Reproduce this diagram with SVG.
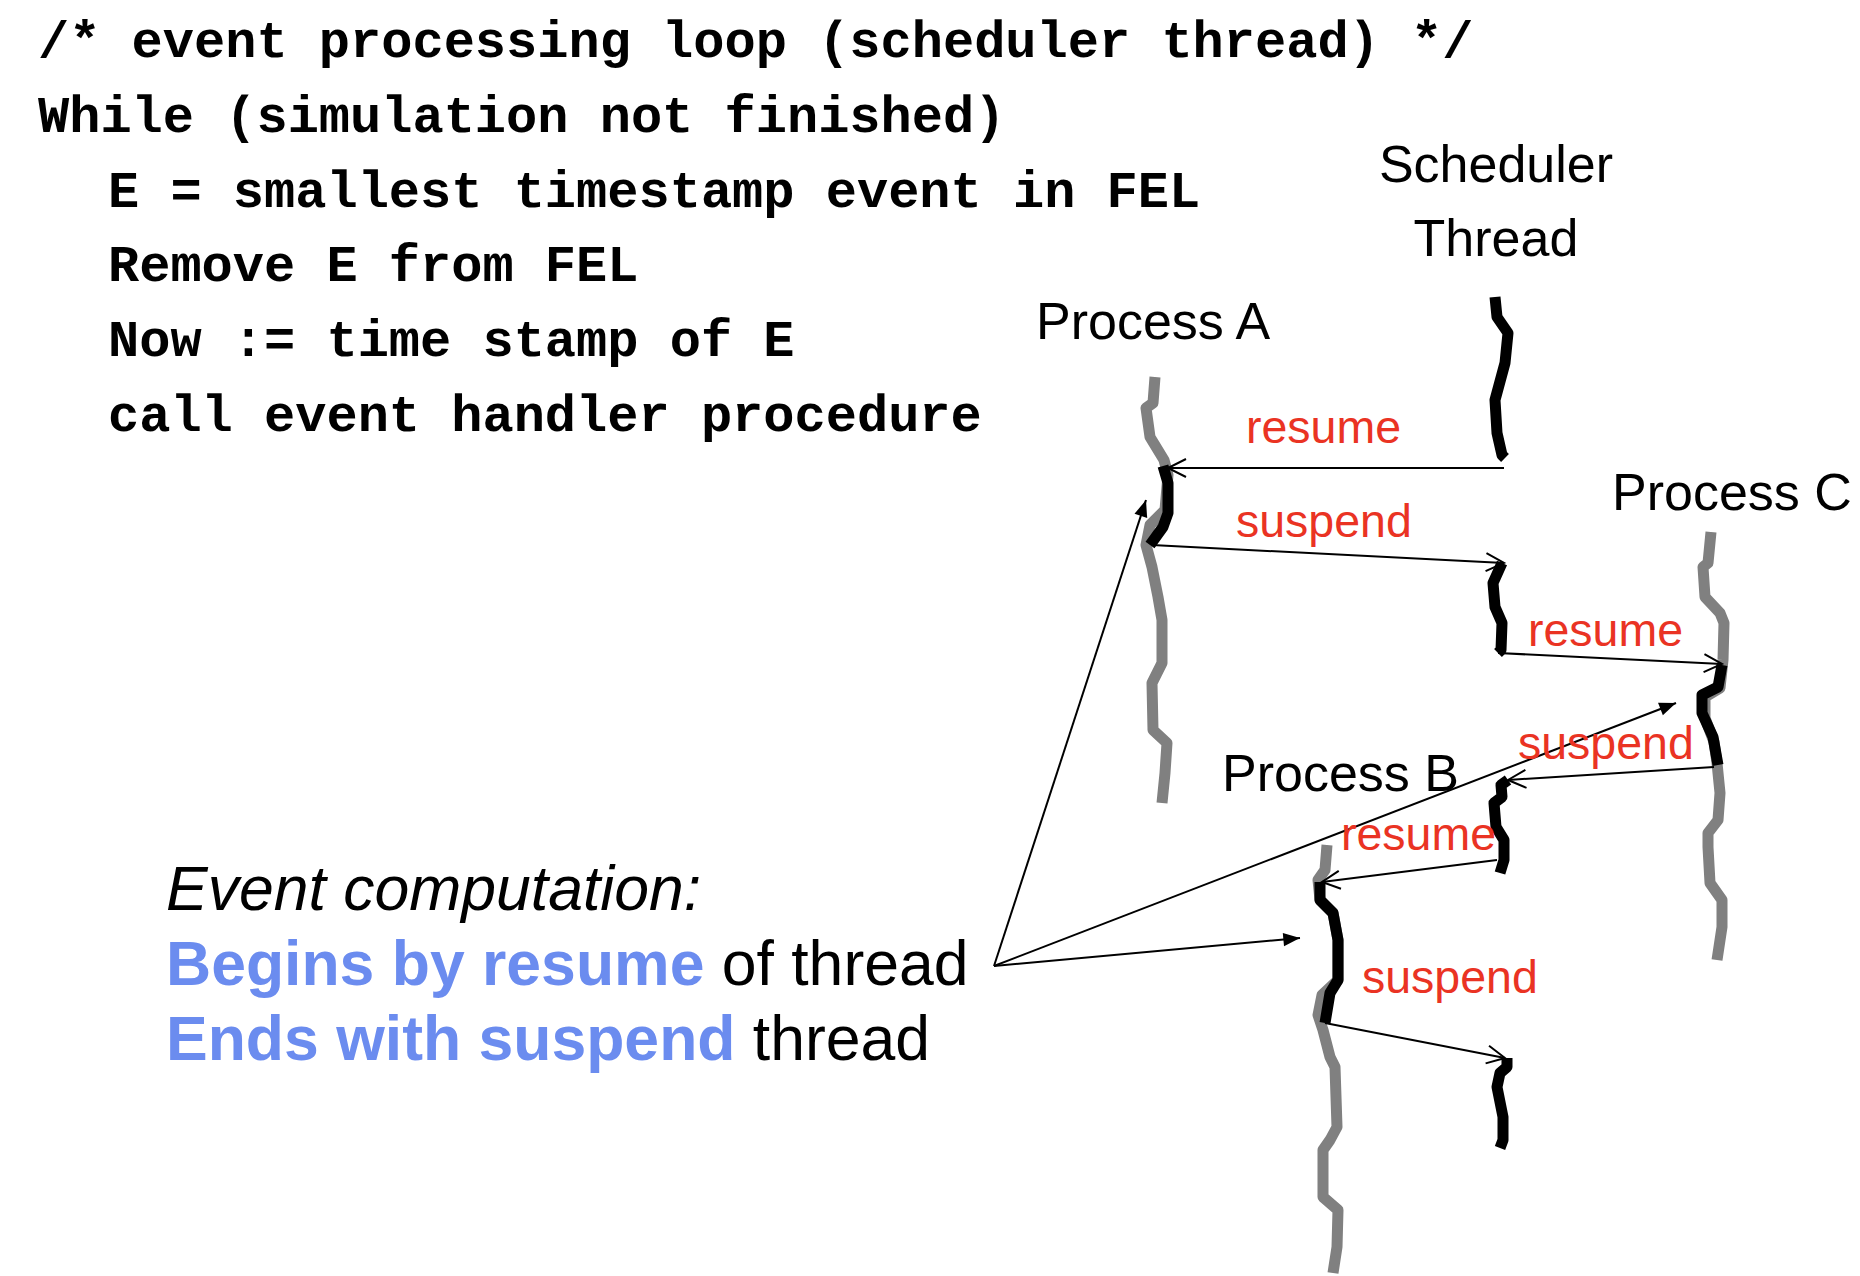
<svg xmlns="http://www.w3.org/2000/svg" width="1860" height="1276" viewBox="0 0 1860 1276">
  <defs>
    <style>
      .code { font-family: "Liberation Mono", "Courier New", monospace; font-weight: bold; font-size: 52px; fill: #000; }
      .head { font-family: "Liberation Sans", Arial, sans-serif; font-size: 52px; fill: #000; }
      .op { font-family: "Liberation Sans", Arial, sans-serif; font-size: 46.5px; fill: #EA3323; }
      .note { font-family: "Liberation Sans", Arial, sans-serif; font-size: 62.5px; fill: #000; }
      .hl { font-weight: bold; fill: #6B8CEF; }
      .idle { fill: none; stroke: #808080; stroke-width: 11; stroke-linejoin: round; }
      .run { fill: none; stroke: #000; stroke-width: 11; stroke-linejoin: round; }
      .switch { fill: none; stroke: #000; stroke-width: 2; marker-end: url(#open); }
      .point { fill: none; stroke: #000; stroke-width: 2; marker-end: url(#solid); }
    </style>
    <marker id="open" markerUnits="userSpaceOnUse" markerWidth="24" markerHeight="24" viewBox="-20 -12 24 24" refX="0" refY="0" orient="auto" overflow="visible">
      <path d="M-18,-9 L0,0 L-18,9" fill="none" stroke="#000" stroke-width="2"/>
    </marker>
    <marker id="solid" markerUnits="userSpaceOnUse" markerWidth="20" markerHeight="20" viewBox="-16 -8 18 16" refX="0" refY="0" orient="auto" overflow="visible">
      <path d="M-15,-6 L0,0 L-15,6 z" fill="#000"/>
    </marker>
  </defs>

  <rect width="1860" height="1276" fill="#fff"/>

  <!-- scheduler loop pseudo-code -->
  <g id="code">
    <text class="code" x="38" y="57" xml:space="preserve">/* event processing loop (scheduler thread) */</text>
    <text class="code" x="38" y="132" xml:space="preserve">While (simulation not finished)</text>
    <text class="code" x="108" y="207" xml:space="preserve">E = smallest timestamp event in FEL</text>
    <text class="code" x="108" y="281" xml:space="preserve">Remove E from FEL</text>
    <text class="code" x="108" y="356" xml:space="preserve">Now := time stamp of E</text>
    <text class="code" x="108" y="431" xml:space="preserve">call event handler procedure</text>
  </g>

  <!-- scheduler thread: runs between the process activations -->
  <g id="scheduler">
    <text class="head" x="1496" y="182" text-anchor="middle">Scheduler</text>
    <text class="head" x="1496" y="256" text-anchor="middle">Thread</text>
    <path class="run" d="M1495,297 L1497,317 L1508,333 L1505,363 L1495,400 L1497,433 L1502,455 L1505,458"/>
    <path class="run" d="M1502,563 L1493,583 L1495,607 L1502,623 L1501,650 L1498,653"/>
    <path class="run" d="M1508,780 L1501,785 L1502,797 L1494,803 L1496,827 L1504,840 L1504,860 L1500,873"/>
    <path class="run" d="M1507,1058 L1507,1067 L1500,1073 L1497,1087 L1503,1117 L1503,1140 L1500,1148"/>
  </g>

  <!-- process A -->
  <g id="process-a">
    <text class="head" x="1036" y="339">Process A</text>
    <path class="idle" d="M1155,377 L1153,403 L1146,408 L1150,437 L1164,460 L1168,475 L1165,510 L1150,525 L1146,545 L1152,567 L1158,597 L1162,620 L1162,663 L1157,673 L1152,683 L1153,730 L1167,743 L1165,773 L1162,803"/>
    <path class="run" d="M1163,466 L1168,483 L1168,513 L1163,527 L1150,545"/>
  </g>

  <!-- process C -->
  <g id="process-c">
    <text class="head" x="1612" y="510">Process C</text>
    <path class="idle" d="M1711,532 L1708,563 L1703,567 L1705,597 L1720,613 L1724,623 L1723,660 L1720,688 L1705,697 L1705,718 L1714,742 L1717,763 L1720,793 L1718,820 L1708,833 L1708,847 L1710,883 L1722,900 L1722,927 L1717,960"/>
    <path class="run" d="M1722,665 L1718,687 L1702,695 L1702,713 L1713,737 L1718,765"/>
  </g>

  <!-- process B -->
  <g id="process-b">
    <text class="head" x="1222" y="791">Process B</text>
    <path class="idle" d="M1327,845 L1325,870 L1318,880 L1320,900 L1333,913 L1338,940 L1338,980 L1322,995 L1318,1015 L1323,1030 L1330,1057 L1335,1067 L1337,1127 L1330,1140 L1323,1150 L1323,1197 L1338,1210 L1337,1247 L1333,1273"/>
    <path class="run" d="M1320,882 L1320,900 L1333,913 L1338,940 L1338,980 L1330,993 L1325,1023"/>
  </g>

  <!-- resume / suspend hand-offs and the annotation pointers -->
  <g id="connectors">
    <path class="switch" d="M1504,468 L1168,468"/>
    <path class="switch" d="M1152,545 L1504,563"/>
    <path class="switch" d="M1498,653 L1722,664"/>
    <path class="switch" d="M1714,767 L1508,780"/>
    <path class="switch" d="M1497,860 L1322,882"/>
    <path class="switch" d="M1325,1023 L1505,1058"/>
    <path class="point" d="M994,966 L1146,500"/>
    <path class="point" d="M994,966 L1676,703"/>
    <path class="point" d="M994,966 L1300,938"/>
  </g>

  <!-- operation labels -->
  <g id="labels">
    <text class="op" x="1246" y="443">resume</text>
    <text class="op" x="1236" y="537">suspend</text>
    <text class="op" x="1528" y="646">resume</text>
    <text class="op" x="1518" y="759">suspend</text>
    <text class="op" x="1341" y="850">resume</text>
    <text class="op" x="1362" y="993">suspend</text>
  </g>

  <!-- explanatory note -->
  <g id="note">
    <text class="note" x="166" y="910" font-style="italic">Event computation:</text>
    <text class="note" x="166" y="985"><tspan class="hl">Begins by resume</tspan> of thread</text>
    <text class="note" x="166" y="1060"><tspan class="hl">Ends with suspend</tspan> thread</text>
  </g>
</svg>
